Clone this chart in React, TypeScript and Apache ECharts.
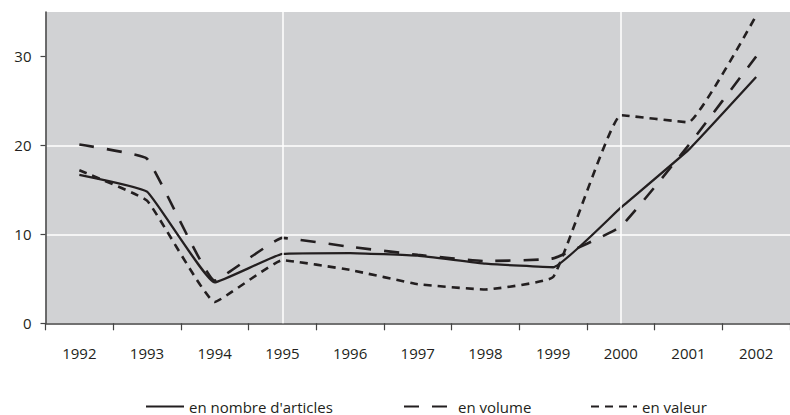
import React, { useEffect, useRef } from "react";
import * as echarts from "echarts";

const years = ["1992", "1993", "1994", "1995", "1996", "1997", "1998", "1999", "2000", "2001", "2002"];
const nombre = [16.7, 14.8, 4.6, 7.8, 7.9, 7.6, 6.7, 6.3, 13.0, 19.5, 27.7];
const volume = [20.1, 18.5, 4.8, 9.6, 8.6, 7.7, 7.0, 7.3, 10.9, 20.0, 30.0];
const valeur = [17.2, 13.8, 2.4, 7.1, 6.0, 4.4, 3.8, 5.2, 23.4, 22.6, 34.6];
const yTicks = [0, 10, 20, 30];
const markYears = ["1995", "2000"];
const names = ["en nombre d'articles", "en volume", "en valeur"];

const FONT = "'Open Sans', 'DejaVu Sans', sans-serif";
const INK = "#231f20";

export default function App() {
  const ref = useRef<HTMLDivElement>(null);
  useEffect(() => {
    if (!ref.current) return;
    const chart = echarts.init(ref.current, undefined, { renderer: "svg" });
    const legendText = { fontFamily: FONT, fontSize: 15, color: INK };
    const legendCommon = {
      top: 394, itemHeight: 14, textStyle: legendText,
      itemStyle: { opacity: 0 },
    };
    chart.setOption({
      animation: false,
      textStyle: { fontFamily: FONT },
      grid: {
        left: 45.5,
        top: 12,
        right: -10.7,
        bottom: 91.7,
        show: true,
        backgroundColor: "#d1d2d4",
        borderWidth: 0,
      },
      legend: [
        { ...legendCommon, data: [names[0]], left: 140, itemWidth: 38 },
        { ...legendCommon, data: [names[1]], left: 398, itemWidth: 49 },
        { ...legendCommon, data: [names[2]], left: 585, itemWidth: 46 },
      ],
      xAxis: {
        type: "category",
        data: years,
        boundaryGap: true,
        axisLine: { lineStyle: { color: "#444", width: 1.5 } },
        axisTick: { show: true, length: 7, lineStyle: { color: "#444", width: 1.2 } },
        axisLabel: { margin: 22, fontSize: 15, color: INK, fontFamily: FONT },
        splitLine: { show: false },
      },
      yAxis: {
        type: "value",
        min: 0,
        max: 35,
        interval: 10,
        axisLine: { show: true, lineStyle: { color: "#444", width: 1.5 } },
        axisTick: { show: true, length: 5, lineStyle: { color: "#444", width: 1.2 }, customValues: yTicks },
        axisLabel: {
          margin: 14, fontSize: 15, color: INK, fontFamily: FONT,
          formatter: (v: number) => (yTicks.indexOf(v) >= 0 ? String(v) : ""),
        },
        splitLine: { show: true, showMinLine: false, showMaxLine: false, lineStyle: { color: "#ffffff", width: 1.5 } },
      },
      series: [
        {
          type: "line",
          name: "_marks",
          data: years.map(() => null),
          z: 1,
          silent: true,
          symbol: "none",
          markLine: {
            silent: true,
            symbol: "none",
            label: { show: false },
            lineStyle: { color: "#ffffff", width: 1.5, type: "solid" },
            data: markYears.map((y) => ({ xAxis: y })),
          },
        },
        {
          type: "line",
          name: names[0],
          data: nombre,
          z: 3,
          symbol: "none",
          smooth: 0.1,
          color: INK,
          lineStyle: { color: INK, width: 2.3, type: "solid" },
        },
        {
          type: "line",
          name: names[1],
          data: volume,
          z: 3,
          symbol: "none",
          smooth: 0.1,
          color: INK,
          lineStyle: { color: INK, width: 2.6, type: [15, 13] },
        },
        {
          type: "line",
          name: names[2],
          data: valeur,
          z: 3,
          symbol: "none",
          smooth: 0.1,
          color: INK,
          lineStyle: { color: INK, width: 2.6, type: [8, 6] },
        },
      ],
    });
    return () => chart.dispose();
  }, []);
  return <div ref={ref} style={{ width: 790, height: 415, position: "absolute", left: 0, top: 0 }} />;
}
